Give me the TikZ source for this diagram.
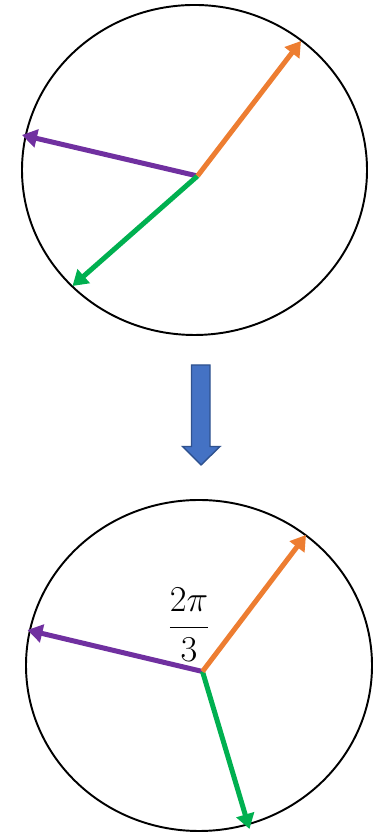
\documentclass[tikz,border=0pt]{standalone}
\usepackage{amsmath}
\usepackage{tikz}
\usetikzlibrary{arrows.meta, calc}
\definecolor{VecOrange}{RGB}{237,125,49}
\definecolor{VecPurple}{RGB}{112,48,160}
\definecolor{VecGreen}{RGB}{0,176,80}
\definecolor{BlockFill}{RGB}{68,114,196}
\definecolor{BlockLine}{RGB}{47,82,143}

\begin{document}
\begin{tikzpicture}[
    vec/.style={line width=2.85pt, -{Triangle[length=3mm, width=3.6mm]}},
    rim/.style={line width=1.1pt, black}
  ]
          \useasboundingbox (0,0) rectangle (7.7,16.64);
          % upper circle
          \coordinate (o1) at (3.95,13.12);
          \coordinate (a1) at (6.02,15.82);
          \coordinate (b1) at (0.44,13.94);
          \coordinate (c1) at (1.45,10.92);
          \draw[rim] (3.89,13.24) ellipse (3.45 and 3.3);
          \draw[vec, VecPurple] (o1) -- (b1);
          \draw[vec, VecGreen] (o1) -- (c1);
          \draw[vec, VecOrange] (o1) -- (a1);
          % block arrow
          \draw[fill=BlockFill, draw=BlockLine, line width=0.8pt, line join=miter]
            (3.83,9.34) -- (4.2,9.34) -- (4.2,7.71) -- (4.4,7.71) -- (4.02,7.34)
            -- (3.65,7.71) -- (3.83,7.71) -- cycle;
          % lower circle
          \coordinate (o2) at (4.05,3.21);
          \coordinate (a2) at (6.12,5.94);
          \coordinate (b2) at (0.55,4.04);
          \coordinate (c2) at (4.99,0.06);
          \draw[rim] (3.98,3.33) ellipse (3.46 and 3.31);
          \draw[vec, VecPurple] (o2) -- (b2);
          \draw[vec, VecGreen] (o2) -- (c2);
          \draw[vec, VecOrange] (o2) -- (a2);
          \node (ang) at (3.78,4.14) {\fontsize{21}{25}\selectfont $\dfrac{2\pi}{3}$};
        \end{tikzpicture}
\end{document}
